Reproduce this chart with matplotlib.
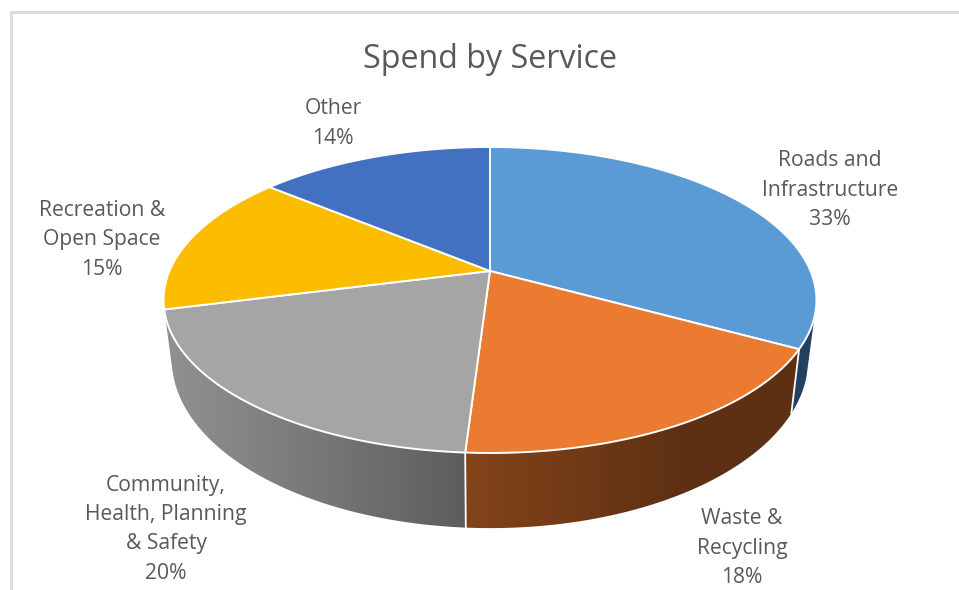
"""Spend by service as a tilted 3D pie"""

import numpy as np

import matplotlib.pyplot as plt
from matplotlib.patches import Polygon

categories = [['Roads and', 'Infrastructure'],
              ['Waste &', 'Recycling'],
              ['Community,', 'Health, Planning', '& Safety'],
              ['Recreation &', 'Open Space'],
              ['Other']]
shares = [33, 18, 20, 15, 14]
top_colors = ['#5B9BD5', '#EB7B30', '#A5A5A5', '#FCBD00', '#4371C2']

# wall shading: x position in pixels -> colour channels, one per slice
wall_x = {0: [700, 900], 1: [465, 600, 680, 800], 2: [165, 330, 470]}
wall_rgb = {0: [[34, 65, 96], [34, 65, 96]],
            1: [[132, 68, 26], [108, 56, 21], [94, 48, 19], [94, 48, 19]],
            2: [[145, 145, 145], [118, 118, 118], [92, 92, 92]]}

label_x = [830, 742, 166, 102, 333]
label_y = [161, 519, 485, 210.5, 109]

CX, CY = 490, 271
A, B, K = 320.5, 147.5, 0.1895
WALL_SCALE, WALL_B, WALL_DROP = 0.975, 163, 56


def project(theta, lower=False):
    """Map clockwise angle from the back of the disc to pixel coordinates"""
    u, v = np.sin(theta), -np.cos(theta)
    w = 1 - K * v
    if lower:
        return CX + WALL_SCALE * A * u / w, CY + WALL_DROP + WALL_B * v / w
    return CX + A * u / w, CY + B * v / w


def draw_wall(ax, i, t0, t1):
    """Horizontal gradient image clipped to the outline of one wall"""
    t = np.linspace(t0, t1, 200)
    xu, yu = project(t)
    xl, yl = project(t, lower=True)
    outline = np.c_[np.r_[xu, xl[::-1]], np.r_[yu, yl[::-1]]]
    patch = Polygon(outline, closed=True, transform=ax.transData,
                    facecolor='none', edgecolor='none')
    ax.add_patch(patch)

    x0, x1 = outline[:, 0].min() - 2, outline[:, 0].max() + 2
    y0, y1 = outline[:, 1].min() - 2, outline[:, 1].max() + 2
    xs = np.linspace(x0, x1, 400)
    rgb = np.array(wall_rgb[i]) / 255
    img = np.stack([np.interp(xs, wall_x[i], rgb[:, c]) for c in range(3)], axis=-1)
    im = ax.imshow(img[np.newaxis, :, :], extent=[x0, x1, y1, y0], aspect='auto',
                   interpolation='bilinear', zorder=2)
    im.set_clip_path(patch)


def draw_top(ax, t0, t1, color):
    t = np.linspace(t0, t1, 200)
    x, y = project(t)
    ax.fill(np.r_[CX, x], np.r_[CY, y], facecolor=color, edgecolor='white',
            lw=1.4, joinstyle='round', zorder=4)


def main():
    fig = plt.figure(figsize=(9.59, 5.90), dpi=100)
    ax = fig.add_axes([0, 0, 1, 1])
    ax.axis('off')

    # chart frame, only its top and left sides are in view
    ax.plot([10.5, 10.5, 959], [590, 11.5, 11.5], color='#dcdcdc', lw=2.2,
            solid_joinstyle='miter', zorder=1)

    fractions = np.array(shares) / sum(shares)
    bounds = np.r_[0, np.cumsum(fractions)] * 2 * np.pi

    # front walls go first, the top faces are painted over them
    first_visible = np.radians(107)
    draw_wall(ax, 0, first_visible, bounds[1])
    draw_wall(ax, 1, bounds[1], bounds[2])
    draw_wall(ax, 2, bounds[2], bounds[3])
    for t in bounds[1:3]:
        x0, y0 = project(t)
        x1, y1 = project(t, lower=True)
        ax.plot([x0, x1], [y0, y1], color='white', lw=1.3, zorder=3)

    for i, color in enumerate(top_colors):
        draw_top(ax, bounds[i], bounds[i + 1], color)

    ax.text(490, 59, 'Spend by Service', ha='center', va='center',
            fontsize=23.2, color='#595959', family='Open Sans')

    for lines, share, x, y in zip(categories, shares, label_x, label_y):
        for n, line in enumerate(lines + ['%d%%' % share]):
            ax.text(x, y + n * 29.4, line, ha='center', va='center',
                    fontsize=15.2, color='#595959', family='Open Sans')

    ax.set_xlim(0, 959)
    ax.set_ylim(590, 0)
    fig.savefig('out.png', dpi=100)


if __name__ == "__main__":
    main()
